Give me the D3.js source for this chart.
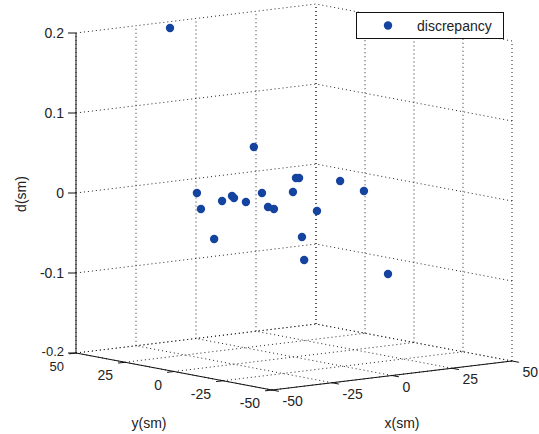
<!DOCTYPE html>
<html>
<head>
<meta charset="utf-8">
<script src="https://cdn.jsdelivr.net/npm/d3@7"></script>
<style>
  html, body { margin: 0; padding: 0; background: #fff; }
  svg { display: block; }
  text { font-family: "Liberation Sans", Arial, sans-serif; fill: #222; }
</style>
</head>
<body>
<svg id="chart" width="539" height="434"></svg>
<script>
// Measurement positions (sm) and discrepancy d (sm)
const xs = [-17.2, -7.5, -19.3, -7.5, -12.2, -12.9, -14.4, -11.2, -2.8, -6.0, 1.5,
            0.3, 4.3, 4.5, 7.5, 13.9, 7.4, 9.3, 17.1, 22.6, 27.9];
const ys = [42.2, 11.3, 25.9, 38.3, 25.8, 20.9, 14.0, 16.9, 21.1, 9.0, 15.1,
            10.6, 5.8, 4.5, 6.6, 5.3, 5.0, 6.2, -2.6, -8.0, -13.8];
const ds = [0.198, 0.06, 0.0, -0.03, -0.06, -0.01, 0.0, -0.005, -0.015, 0.003, -0.02,
            -0.02, 0.002, 0.02, 0.018, -0.025, -0.055, -0.085, 0.015, 0.003, -0.1];

const xTicks = [-50, -25, 0, 25, 50];
const yTicks = [-50, -25, 0, 25, 50];
const zTicks = [-0.2, -0.1, 0, 0.1, 0.2];
const zTickLabels = ["-0.2", "-0.1", "0", "0.1", "0.2"];
const seriesName = "discrepancy";

// Normalised box coordinates
const xScale = d3.scaleLinear().domain([-50, 50]).range([0, 1]);
const yScale = d3.scaleLinear().domain([-50, 50]).range([0, 1]);
const zScale = d3.scaleLinear().domain([-0.2, 0.2]).range([0, 1]);

// Orthographic view of the box: front-bottom corner and edge vectors
const P0 = [272, 390];
const EX = [240, -29];
const EY = [-196, -37];
const EZ = [0, -320];

function project(x, y, z) {
  const u = xScale(x), v = yScale(y), w = zScale(z);
  return [P0[0] + u * EX[0] + v * EY[0] + w * EZ[0],
          P0[1] + u * EX[1] + v * EY[1] + w * EZ[1]];
}

const svg = d3.select("#chart");
const line = d3.line();
const gGrid = svg.append("g")
  .attr("fill", "none")
  .attr("stroke", "#222")
  .attr("stroke-width", 1)
  .attr("stroke-dasharray", "1,3");

const xMin = -50, xMax = 50, yMin = -50, yMax = 50, zMin = -0.2, zMax = 0.2;
const segs = [];
// back wall y = yMax
xTicks.forEach(x => segs.push([project(x, yMax, zMin), project(x, yMax, zMax)]));
zTicks.forEach(z => segs.push([project(xMin, yMax, z), project(xMax, yMax, z)]));
// back wall x = xMax
yTicks.forEach(y => segs.push([project(xMax, y, zMin), project(xMax, y, zMax)]));
zTicks.forEach(z => segs.push([project(xMax, yMin, z), project(xMax, yMax, z)]));
// floor z = zMin
xTicks.forEach(x => segs.push([project(x, yMin, zMin), project(x, yMax, zMin)]));
yTicks.forEach(y => segs.push([project(xMin, y, zMin), project(xMax, y, zMin)]));

gGrid.selectAll("path").data(segs).join("path").attr("d", d => line(d));

// Axis lines
const gAxis = svg.append("g").attr("stroke", "#111").attr("stroke-width", 1).attr("fill", "none");
gAxis.append("path").attr("d", line([project(xMin, yMax, zMin), project(xMin, yMax, zMax)]));
gAxis.append("path").attr("d", line([project(xMin, yMax, zMin), project(xMin, yMin, zMin)]));
gAxis.append("path").attr("d", line([project(xMin, yMin, zMin), project(xMax, yMin, zMin)]));

const tickLen = 7;
function unit(v) { const n = Math.hypot(v[0], v[1]); return [v[0] / n, v[1] / n]; }
const dirMinusX = unit([-EX[0], -EX[1]]);
const dirMinusY = unit([-EY[0], -EY[1]]);

// x ticks point toward -y
xTicks.forEach(x => {
  const p = project(x, yMin, zMin);
  gAxis.append("path").attr("d", line([p, [p[0] + dirMinusY[0] * tickLen, p[1] + dirMinusY[1] * tickLen]]));
});
// y ticks point toward -x
yTicks.forEach(y => {
  const p = project(xMin, y, zMin);
  gAxis.append("path").attr("d", line([p, [p[0] + dirMinusX[0] * tickLen, p[1] + dirMinusX[1] * tickLen]]));
});
// z ticks
zTicks.forEach(z => {
  const p = project(xMin, yMax, z);
  gAxis.append("path").attr("d", line([p, [p[0] - 8, p[1]]]));
});

// Tick labels
const gLab = svg.append("g").attr("font-size", 14);
xTicks.forEach(x => {
  const p = project(x, yMin, zMin);
  gLab.append("text").attr("x", p[0] + 10.5).attr("y", p[1] + 11)
    .attr("dominant-baseline", "central").attr("text-anchor", "start").text(x);
});
yTicks.forEach(y => {
  const p = project(xMin, y, zMin);
  gLab.append("text").attr("x", p[0] - 12).attr("y", p[1] + 13)
    .attr("font-size", y === yMax ? 13 : 14)
    .attr("dominant-baseline", "central").attr("text-anchor", "end").text(y);
});
zTicks.forEach((z, i) => {
  const p = project(xMin, yMax, z);
  gLab.append("text").attr("x", p[0] - 12).attr("y", p[1] - (i === 0 ? 2 : 0))
    .attr("font-size", i === 0 ? 13 : 14)
    .attr("dominant-baseline", "central").attr("text-anchor", "end").text(zTickLabels[i]);
});

// Axis titles
gLab.append("text").attr("x", 402).attr("y", 423).attr("text-anchor", "middle")
  .attr("dominant-baseline", "central").text("x(sm)");
gLab.append("text").attr("x", 149).attr("y", 423).attr("text-anchor", "middle")
  .attr("dominant-baseline", "central").text("y(sm)");
gLab.append("text").attr("transform", "translate(21,194) rotate(-90)")
  .attr("text-anchor", "middle").attr("dominant-baseline", "central").text("d(sm)");

// Data points
const markerColor = "#1444a0";
const pts = xs.map((x, i) => project(x, ys[i], ds[i]));
svg.append("g").selectAll("circle").data(pts).join("circle")
  .attr("cx", d => d[0]).attr("cy", d => d[1]).attr("r", 4.2)
  .attr("fill", markerColor);

// Legend
const leg = svg.append("g");
leg.append("rect").attr("x", 356.5).attr("y", 12.5).attr("width", 147).attr("height", 26)
  .attr("fill", "#fff").attr("stroke", "#111").attr("stroke-width", 1);
leg.append("circle").attr("cx", 388).attr("cy", 25.5).attr("r", 4.2).attr("fill", markerColor);
leg.append("text").attr("x", 417).attr("y", 25.5).attr("font-size", 14)
  .attr("dominant-baseline", "central").text(seriesName);
</script>
</body>
</html>
